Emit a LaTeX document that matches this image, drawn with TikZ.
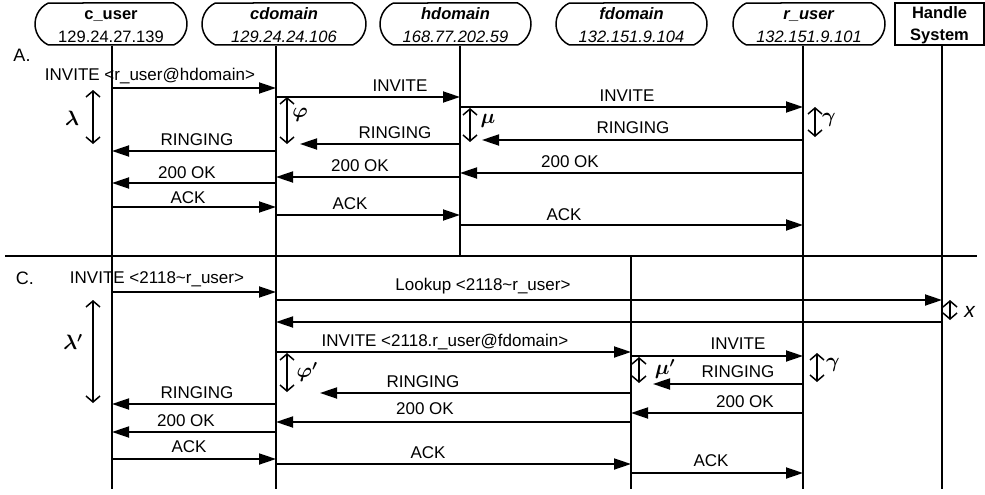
\documentclass[tikz,border=0pt]{standalone}
\usepackage{fontspec}
\setmainfont{Liberation Sans}
\usetikzlibrary{arrows.meta,shapes.misc}
\newcommand{\mymsg}[6]{%
  \draw[msg] (#1 |- 0,#3) -- (#2 |- 0,#3);
  \node[lbl] at (#5,#6) {#4};}
\newcommand{\hstrut}{\rule{0pt}{14pt}}
\begin{document}
\begin{tikzpicture}[x=1pt,y=-1pt,
  hdr/.style={rounded rectangle, rounded rectangle arc length=130, draw, line width=1.5pt,
    minimum width=#1, minimum height=42pt, inner sep=0pt, align=center,
    font=\fontsize{16.5pt}{23pt}\selectfont},
  hsbox/.style={rectangle, draw, line width=1.5pt, minimum width=89pt, minimum height=42pt,
    inner sep=0pt, align=center, font=\fontsize{16.5pt}{22pt}\selectfont\bfseries},
  life/.style={line width=1.5pt},
  msg/.style={line width=1.8pt, -{Triangle[length=17pt,width=11pt]}},
  delay/.style={line width=1.5pt, {Straight Barb[length=6pt,width=14pt]}-{Straight Barb[length=6pt,width=14pt]}},
  lbl/.style={font=\fontsize{17pt}{18pt}\selectfont, inner sep=0pt},
  gk/.style={font=\fontsize{21pt}{22pt}\selectfont\boldmath, inner sep=0pt},
  sec/.style={font=\fontsize{18pt}{18pt}\selectfont, inner sep=0pt}]
\useasboundingbox (0,0) rectangle (985,495);

% header nodes
\node[hdr=152pt] (cuser) at (111,24) {\hstrut\textbf{c\_user}\\129.24.27.139};
\node[hdr=164pt] (cdom) at (284,24) {\hstrut\textbf{\textit{cdomain}}\\\textit{129.24.24.106}};
\node[hdr=151pt] (hdom) at (455.5,24) {\hstrut\textbf{\textit{hdomain}}\\\textit{168.77.202.59}};
\node[hdr=151pt] (fdom) at (631.5,24) {\hstrut\textbf{\textit{fdomain}}\\\textit{132.151.9.104}};
\node[hdr=152pt] (ruser) at (809,24) {\hstrut\textbf{\textit{r\_user}}\\\textit{132.151.9.101}};
\node[hsbox] (hs) at (939.5,24) {\hstrut Handle\\System};

% lifeline x positions
\coordinate (Lc) at (112,489);
\coordinate (Lcd) at (276,489);
\coordinate (Lh) at (460,256);
\coordinate (Lf) at (631,489);
\coordinate (Lr) at (803,489);
\coordinate (Lhs) at (942,489);
\coordinate (sepL) at (5,256);
\coordinate (sepR) at (977,256);

\draw[life] (Lc |- cuser.south) -- (Lc);
\draw[life] (Lcd |- cdom.south) -- (Lcd);
\draw[life] (Lh |- hdom.south) -- (Lh);
\draw[life] (Lf |- sepL) -- (Lf);
\draw[life] (Lr |- ruser.south) -- (Lr);
\draw[life] (Lhs |- hs.south) -- (Lhs);
\draw[line width=1.6pt] (sepL) -- (sepR);

% truncated ends
\coordinate (T1) at (482,0);
\coordinate (T2) at (300,0);
\coordinate (T3) at (653,0);
\coordinate (T4) at (320,0);

\node[sec] (secA) at (22,55) {A.};
\node[sec] (secC) at (25,278) {C.};

% section A
\mymsg{Lc}{Lcd}{88}{INVITE <r\_user@hdomain>}{150}{76}
\mymsg{Lcd}{Lh}{97}{INVITE}{400}{86}
\mymsg{Lh}{Lr}{107}{INVITE}{627}{96}
\mymsg{Lr}{T1}{140}{RINGING}{633}{128}
\mymsg{Lh}{T2}{144}{RINGING}{395}{133}
\mymsg{Lcd}{Lc}{151}{RINGING}{197}{140}
\mymsg{Lr}{Lh}{173}{200 OK}{570}{162}
\mymsg{Lh}{Lcd}{177}{200 OK}{360}{166}
\mymsg{Lcd}{Lc}{183}{200 OK}{187}{173}
\mymsg{Lc}{Lcd}{207}{ACK}{188}{198}
\mymsg{Lcd}{Lh}{215}{ACK}{350}{204}
\mymsg{Lh}{Lr}{225}{ACK}{564}{215}

\draw[delay] (93,90) -- (93,144);
\node[gk] (lam) at (72,118) {$\lambda$};
\draw[delay] (287,97) -- (287,144);
\node[gk] (phi) at (300,115) {$\varphi$};
\draw[delay] (470,108) -- (470,142);
\node[gk] (mu) at (488,121) {$\mu$};
\draw[delay] (815,107) -- (815,137);
\node[gk] (gam) at (829,120) {$\gamma$};

% section C
\mymsg{Lc}{Lcd}{292}{INVITE <2118\textasciitilde r\_user>}{157}{279}
\mymsg{Lcd}{Lhs}{300}{Lookup <2118\textasciitilde r\_user>}{483}{286}
\mymsg{Lhs}{Lcd}{322}{}{0}{0}
\mymsg{Lcd}{Lf}{352}{INVITE <2118.r\_user@fdomain>}{445}{342}
\mymsg{Lf}{Lr}{356}{INVITE}{738}{344}
\mymsg{Lr}{T3}{384}{RINGING}{738}{372}
\mymsg{Lf}{T4}{393}{RINGING}{423}{382}
\mymsg{Lcd}{Lc}{404}{RINGING}{197}{393}
\mymsg{Lr}{Lf}{413}{200 OK}{745}{402}
\mymsg{Lf}{Lcd}{422}{200 OK}{425}{409}
\mymsg{Lcd}{Lc}{432}{200 OK}{186}{421}
\mymsg{Lc}{Lcd}{459}{ACK}{189}{447}
\mymsg{Lcd}{Lf}{464}{ACK}{428}{453}
\mymsg{Lf}{Lr}{473}{ACK}{711}{461}

\draw[delay] (950,300) -- (950,320);
\node[gk] (xl) at (970,312) {\textit{x}};
\draw[delay] (93,300) -- (93,403);
\node[gk] (lamp) at (73,342) {$\lambda'$};
\draw[delay] (287,353) -- (287,392);
\node[gk] (phip) at (307,372) {$\varphi'$};
\draw[delay] (639,357) -- (639,383);
\node[gk] (mup) at (665,369) {$\mu'$};
\draw[delay] (817,353) -- (817,382);
\node[gk] (gamp) at (833,365) {$\gamma$};
\end{tikzpicture}
\end{document}
